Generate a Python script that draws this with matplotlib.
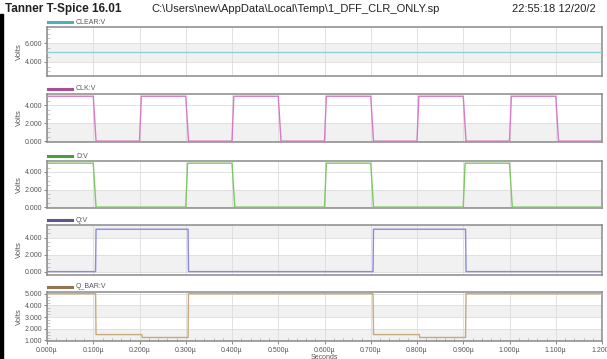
import numpy as np
import matplotlib
matplotlib.use('Agg')
import matplotlib.pyplot as plt
from matplotlib.ticker import FuncFormatter, MultipleLocator, AutoMinorLocator
from matplotlib.patches import Rectangle

plt.rcParams['font.family'] = ['Liberation Sans', 'DejaVu Sans']

# ---------- 波形数据 (时间单位: µs, 电压: V) ----------
clear_t = [0.0, 1.2]
clear_v = [5.0, 5.0]

clk_t = [0.0, 0.100, 0.106, 0.200, 0.204, 0.300, 0.306, 0.400, 0.404, 0.500, 0.506,
         0.600, 0.604, 0.700, 0.706, 0.800, 0.804, 0.900, 0.906, 1.000, 1.004, 1.100, 1.106, 1.200]
clk_v = [5, 5, 0, 0, 5, 5, 0, 0, 5, 5, 0, 0, 5, 5, 0, 0, 5, 5, 0, 0, 5, 5, 0, 0]

d_t = [0.0, 0.100, 0.106, 0.300, 0.304, 0.400, 0.406, 0.600, 0.604, 0.700, 0.706,
       0.900, 0.904, 1.000, 1.006, 1.200]
d_v = [5, 5, 0, 0, 5, 5, 0, 0, 5, 5, 0, 0, 5, 5, 0, 0]

q_t = [0.0, 0.105, 0.106, 0.305, 0.306, 0.705, 0.706, 0.905, 0.906, 1.200]
q_v = [0, 0, 5, 5, 0, 0, 5, 5, 0, 0]

qb_t = [0.0, 0.105, 0.106, 0.205, 0.206, 0.305, 0.306, 0.705, 0.706, 0.805, 0.806, 0.905, 0.906, 1.200]
qb_v = [5, 5, 1.5, 1.5, 1.25, 1.25, 5, 5, 1.5, 1.5, 1.25, 1.25, 5, 5]

names = ['CLEAR:V', 'CLK:V', 'D:V', 'Q:V', 'Q_BAR:V']

# ---------- 版面 (像素) ----------
W, H = 607, 359
fig = plt.figure(figsize=(W / 100, H / 100), dpi=100)
fig.patch.set_facecolor('white')

panels = [(27, 76), (94, 142), (161, 208), (225, 275), (292, 341)]
x0, x1 = 47, 602

signals = [(clear_t, clear_v, '#86d4da', '#4fb1b7', (2.5, 7.7), [4, 6], [(4, 6)]),
           (clk_t, clk_v, '#d779c6', '#a8508f', (-0.1, 5.25), [0, 2, 4], [(0, 2)]),
           (d_t, d_v, '#7cc862', '#4f9a3c', (-0.1, 5.25), [0, 2, 4], [(0, 2)]),
           (q_t, q_v, '#8a88e6', '#5d5490', (-0.4, 5.5), [0, 2, 4], [(0, 2), (4, 6)]),
           (qb_t, qb_v, '#c8aa7c', '#8d7556', (0.95, 5.15), [1, 2, 3, 4, 5], [(1, 2), (3, 4)])]

fmt_y = FuncFormatter(lambda v, p: '%.3f' % v)
fmt_x = FuncFormatter(lambda v, p: '%.3fµ' % v)

axes = []
for i, ((top, bot), (t, v, col, lcol, ylim, yt, bands)) in enumerate(zip(panels, signals)):
    ax = fig.add_axes([x0 / W, 1 - bot / H, (x1 - x0) / W, (bot - top) / H])
    for lo, hi in bands:
        ax.axhspan(lo, hi, color='#f1f1f1', zorder=0, lw=0)
    ax.plot(t, v, color=col, lw=1.0, zorder=3)
    ax.set_xlim(0, 1.2)
    ax.set_ylim(*ylim)
    ax.set_yticks(yt)
    ax.yaxis.set_major_formatter(fmt_y)
    ax.yaxis.set_minor_locator(AutoMinorLocator(4))
    ax.xaxis.set_major_locator(MultipleLocator(0.1))
    ax.xaxis.set_minor_locator(MultipleLocator(0.02))
    ax.grid(True, which='major', color='#dcdcdc', lw=0.6, zorder=1)
    ax.tick_params(axis='y', which='major', labelsize=5, colors='#555555', length=2, width=0.5, pad=1.5)
    ax.tick_params(axis='y', which='minor', direction='in', length=2, width=0.4, colors='#999999')
    ax.tick_params(axis='x', which='major', length=2, width=0.5, colors='#555555', labelsize=5, pad=2)
    ax.tick_params(axis='x', which='minor', direction='in', length=2.5, width=0.5, colors='#999999')
    for s in ax.spines.values():
        s.set_color('#8a8a8a')
        s.set_linewidth(1.1)
    ax.set_ylabel('Volts', fontsize=5.5, color='#555555', labelpad=1)
    if i < 4:
        ax.tick_params(axis='x', which='both', labelbottom=False, bottom=False)
    else:
        ax.xaxis.set_major_formatter(fmt_x)
        ax.set_xlabel('Seconds', fontsize=5, color='#555555', labelpad=0)
    # 图例 (短线 + 名称)
    ly = 1 - (top - 5) / H
    fig.add_artist(plt.Line2D([48 / W, 72 / W], [ly, ly], color=lcol, lw=2.2,
                              transform=fig.transFigure))
    fig.text(76 / W, ly, names[i], fontsize=5, color='#555555', va='center', ha='left')
    axes.append(ax)

# 标题栏
fig.text(5 / W, 1 - 9 / H, 'Tanner T-Spice 16.01', fontsize=8.5, color='#222222',
         va='center', ha='left', fontweight='bold')
fig.text(151 / W, 1 - 9 / H, 'C:\\Users\\new\\AppData\\Local\\Temp\\1_DFF_CLR_ONLY.sp',
         fontsize=8, color='#222222', va='center', ha='left')
fig.text(512 / W, 1 - 9 / H, '22:55:18 12/20/2', fontsize=8, color='#222222',
         va='center', ha='left')

# 左侧黑边
fig.add_artist(Rectangle((0, 0), 3 / W, 1 - 14 / H, color='black', transform=fig.transFigure))

fig.savefig('out.png', dpi=100)
